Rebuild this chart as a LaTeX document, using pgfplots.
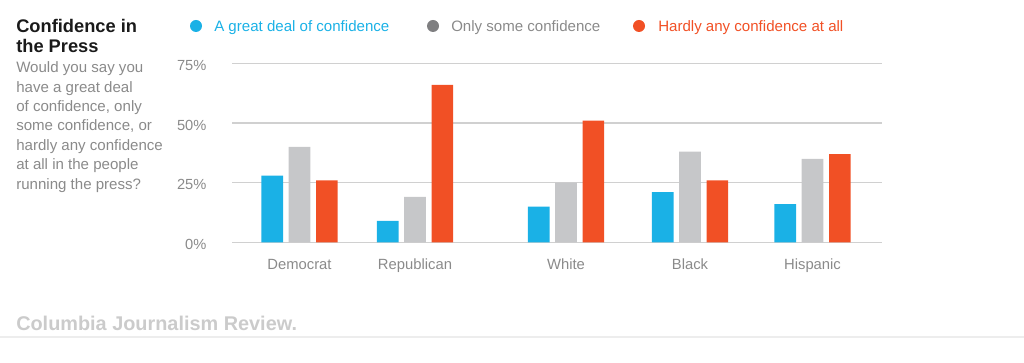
\documentclass[border=0pt]{standalone}
\usepackage{fontspec}
\setmainfont{Liberation Sans}
\usepackage{pgfplots}
\usepackage{pgfplotstable}
\pgfplotsset{compat=1.18}
\definecolor{cblue}{HTML}{1AB1E6}
\definecolor{cgray}{HTML}{C6C7C9}
\definecolor{cred}{HTML}{F15025}
\definecolor{cdot}{HTML}{7F7F81}
\definecolor{ctext}{HTML}{8A8A8A}
\definecolor{ctitle}{HTML}{1A1A1A}
\definecolor{cgrid}{HTML}{D0D0D0}
\definecolor{cfoot}{HTML}{CBCBCB}
\definecolor{cline}{HTML}{EDEDED}

\pgfplotstableread{
x     blue gray red
299.5 28   40   26
415   9    19   66
566   15   25   51
690   21   38   26
812.5 16   35   37
}\confdata

\begin{document}
\begin{tikzpicture}[x=0.75pt,y=0.75pt]
\path[use as bounding box] (0,0) rectangle (1024,363);
% title
\node[anchor=base west,inner sep=0,font=\bfseries\fontsize{13.7}{15}\selectfont,text=ctitle] at (16,363-32.3) {Confidence in};
\node[anchor=base west,inner sep=0,font=\bfseries\fontsize{13.7}{15}\selectfont,text=ctitle] at (16,363-52.3) {the Press};
% subtitle
\foreach \t [count=\i from 0] in {Would you say you,have a great deal,{of confidence, only},{some confidence, or},hardly any confidence,at all in the people,running the press?}{
  \node[anchor=base west,inner sep=0,font=\fontsize{11.3}{14}\selectfont,text=ctext] at (16,363-72.7-19.43*\i) {\t};
}
% legend
\fill[cblue] (196,363-26) circle[radius=4.5pt];
\node[anchor=base west,inner sep=0,font=\fontsize{11.3}{14}\selectfont,text=cblue] at (214,363-31.5) {A great deal of confidence};
\fill[cdot] (433,363-26) circle[radius=4.5pt];
\node[anchor=base west,inner sep=0,font=\fontsize{11.3}{14}\selectfont,text=ctext] at (451,363-31.5) {Only some confidence};
\fill[cred] (639,363-26) circle[radius=4.5pt];
\node[anchor=base west,inner sep=0,font=\fontsize{11.3}{14}\selectfont,text=cred] at (658,363-31.5) {Hardly any confidence at all};
% footer
\node[anchor=base west,inner sep=0,font=\bfseries\fontsize{14.9}{16}\selectfont,text=cfoot] at (16,363-330.5) {Columbia Journalism Review.};
\draw[cline,line width=1.4pt] (0,363-337) -- (1024,363-337);

\begin{axis}[
  at={(174.0pt,90.5pt)}, anchor=south west,
  scale only axis, width=487.5pt, height=134.25pt,
  xmin=232, xmax=882, ymin=0, ymax=75,
  axis line style={draw=none}, tick style={draw=none},
  ymajorgrids, grid style={draw=cgrid, line width=0.9pt},
  ytick={0,25,50,75}, yticklabels={0\%,25\%,50\%,75\%},
  xtick={299.5,415,566,690,812.5},
  xticklabels={Democrat,Republican,White,Black,Hispanic},
  yticklabel style={font=\fontsize{11}{13}\selectfont, text=ctext, anchor=east, inner sep=0pt, xshift=-19pt, yshift=-1.5pt},
  xticklabel style={font=\fontsize{11.1}{13}\selectfont, text=ctext, anchor=north, inner sep=0pt, text height=8pt, text depth=2pt, yshift=-7.8pt},
  ybar, bar width=21.6,
]
\addplot[fill=cblue, draw=none, bar shift=-27.3] table[x=x,y=blue] {\confdata};
\addplot[fill=cgray, draw=none, bar shift=0] table[x=x,y=gray] {\confdata};
\addplot[fill=cred, draw=none, bar shift=27.3] table[x=x,y=red] {\confdata};
\end{axis}
\end{tikzpicture}
\end{document}
